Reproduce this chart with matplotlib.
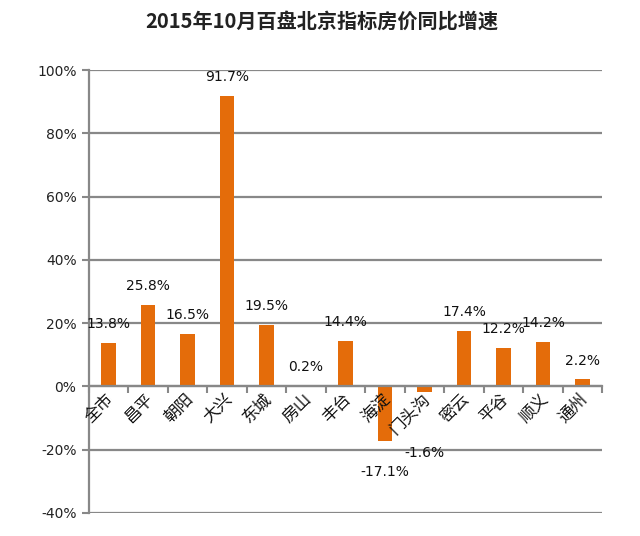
import numpy as np
import matplotlib
matplotlib.use('Agg')
import matplotlib.pyplot as plt

plt.rcParams['font.family'] = ['Noto Sans CJK SC', 'DejaVu Sans']

# 2015年10月 各区指标房价同比增速 (%)
districts = ['全市', '昌平', '朝阳', '大兴', '东城', '房山', '丰台', '海淀', '门头沟', '密云', '平谷', '顺义', '通州']
growth = [13.8, 25.8, 16.5, 91.7, 19.5, 0.2, 14.4, -17.1, -1.6, 17.4, 12.2, 14.2, 2.2]
yticks = [-40, -20, 0, 20, 40, 60, 80, 100]

bar_color = '#E46C0A'
grid_color = '#888888'

fig = plt.figure(figsize=(6.4, 5.36), dpi=100)
ax = fig.add_axes([0.139, 0.043, 0.802, 0.826])

x = np.arange(len(districts))
ax.bar(x, growth, 0.37, color=bar_color, zorder=3)

ax.set_xlim(-0.5, len(districts) - 0.5)
ax.set_ylim(-40, 100)
ax.set_yticks(yticks)
ax.set_yticklabels(['%d%%' % v for v in yticks], fontsize=10, family='DejaVu Sans', color='#222222')
ax.yaxis.grid(True, color=grid_color, linewidth=1.6, zorder=0)
ax.tick_params(axis='y', length=5, width=1.5, color=grid_color, pad=4)

for s in ['top', 'right']:
    ax.spines[s].set_visible(False)
ax.spines['left'].set_color(grid_color)
ax.spines['left'].set_linewidth(1.6)
ax.spines['bottom'].set_position(('data', 0))
ax.spines['bottom'].set_color(grid_color)
ax.spines['bottom'].set_linewidth(1.6)
ax.spines['bottom'].set_zorder(4)

# 类别边界刻度
ax.set_xticks(np.arange(len(districts) + 1) - 0.5)
ax.set_xticklabels([])
ax.tick_params(axis='x', length=5, width=1.5, color=grid_color, direction='out')

# 类别标签（斜45度）
for i, name in enumerate(districts):
    ax.text(i + 0.22, -1.2, name, rotation=45, ha='right', va='top', fontsize=12, color='#111111', zorder=5)

# 数据标签
for i, v in enumerate(growth):
    if v >= 0:
        ly = v + 6
    else:
        ly = min(v - 10, -21)
    ax.text(i, ly, '%.1f%%' % v, ha='center', va='center', fontsize=10, family='DejaVu Sans', color='#111111', zorder=5)

fig.text(0.503, 0.958, '2015年10月百盘北京指标房价同比增速', ha='center', va='center', fontsize=14.5, fontweight='bold', color='#222222')

fig.savefig('out.png', dpi=100)
